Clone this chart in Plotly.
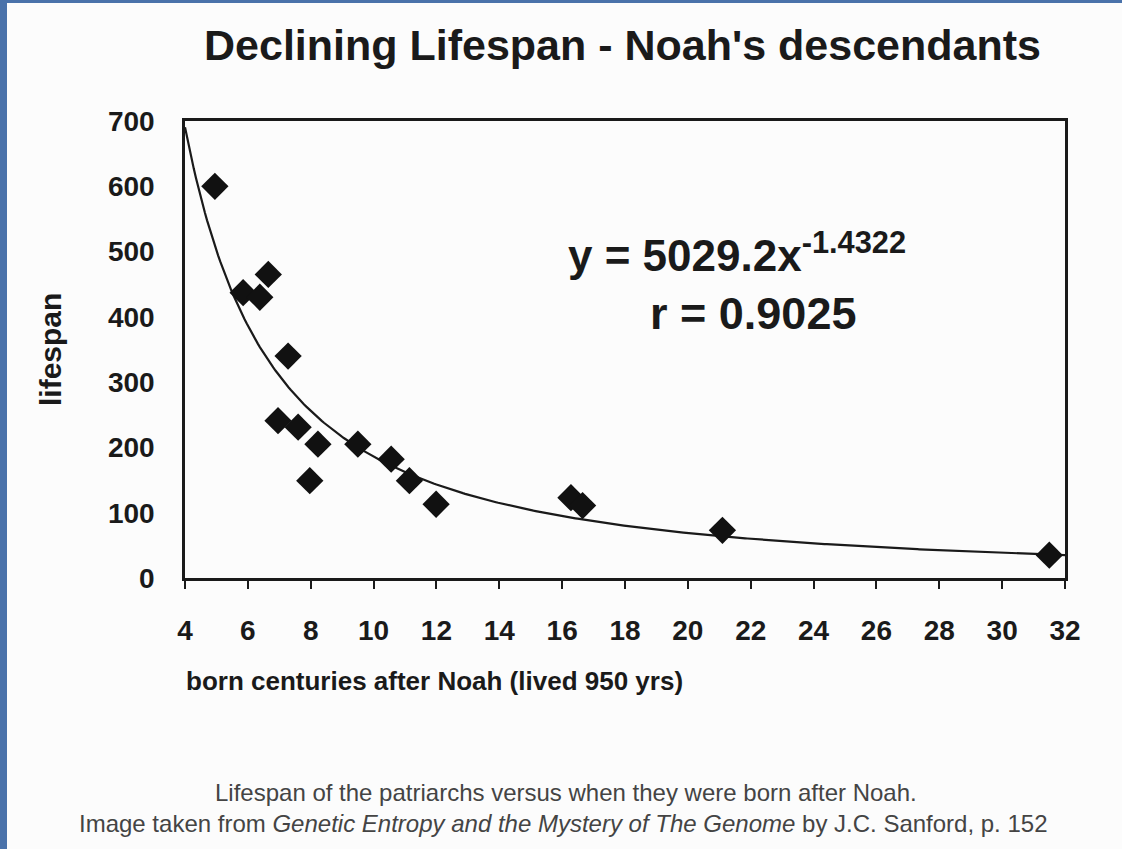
import numpy as np
import plotly.graph_objects as go

# Data
born_centuries = [4.95, 5.85, 6.38, 6.65, 7.28, 6.96, 7.60, 8.23, 7.97, 9.50,
                  10.56, 11.14, 11.99, 16.28, 16.65, 21.1, 31.5]
lifespan = [600, 437, 430, 465, 340, 241, 231, 205, 149, 205,
            182, 149, 113, 123, 111, 73, 35]

fit_coef = 5029.2
fit_exp = -1.4322
fit_r = 0.9025

x_ticks = list(range(4, 33, 2))
y_ticks = list(range(0, 701, 100))

W, H = 1122, 849
L, R, T, B = 185, 57, 121, 271
PW, PH = W - L - R, H - T - B

def px_x(p):
    return (p - L) / PW

def px_y(p):
    return (H - B - p) / PH

curve_x = np.linspace(4, 32, 400)
curve_y = fit_coef * curve_x ** fit_exp

FONT = "Liberation Sans, Arial, Helvetica, sans-serif"

fig = go.Figure()
fig.add_trace(go.Scatter(x=curve_x, y=curve_y, mode="lines",
                         line=dict(color="#1a1a1a", width=2.2),
                         hoverinfo="skip", showlegend=False))
fig.add_trace(go.Scatter(x=born_centuries, y=lifespan, mode="markers",
                         marker=dict(symbol="diamond", size=21, color="#111111",
                                     line=dict(width=0)),
                         showlegend=False))

fig.update_xaxes(range=[4, 32], tickvals=x_ticks, showgrid=False, zeroline=False,
                 showline=True, linecolor="#1a1a1a", linewidth=2.5, mirror=True,
                 ticks="outside", ticklen=8, tickwidth=2, tickcolor="#1a1a1a",
                 ticklabelstandoff=18,
                 tickfont=dict(family=FONT, size=28, color="#1a1a1a", weight="bold"))
fig.update_yaxes(range=[0, 700], tickvals=y_ticks, showgrid=False, zeroline=False,
                 showline=True, linecolor="#1a1a1a", linewidth=2.5, mirror=True,
                 ticks="", ticklabelstandoff=22,
                 tickfont=dict(family=FONT, size=28, color="#1a1a1a", weight="bold"))

annotations = [
    dict(text="<b>Declining Lifespan - Noah's descendants</b>", x=px_x(622), y=px_y(45),
         font=dict(family=FONT, size=43, color="#1a1a1a")),
    dict(text="<b>y = 5029.2x<sup>-1.4322</sup></b>", x=px_x(566), y=px_y(252),
         xanchor="left", font=dict(family=FONT, size=44, color="#1a1a1a")),
    dict(text="<b>r = 0.9025</b>", x=px_x(648), y=px_y(313),
         xanchor="left", font=dict(family=FONT, size=45, color="#1a1a1a")),
    dict(text="<b>lifespan</b>", x=px_x(50), y=px_y(350), textangle=-90,
         font=dict(family=FONT, size=30, color="#1a1a1a")),
    dict(text="<b>born centuries after Noah (lived 950 yrs)</b>", x=px_x(434), y=px_y(681),
         font=dict(family=FONT, size=26, color="#1a1a1a")),
    dict(text="Lifespan of the patriarchs versus when they were born after Noah.",
         x=px_x(566), y=px_y(792), font=dict(family=FONT, size=24, color="#444444")),
    dict(text="Image taken from <i>Genetic Entropy and the Mystery of The Genome</i> by J.C. Sanford, p. 152",
         x=px_x(563), y=px_y(823), font=dict(family=FONT, size=24, color="#444444")),
]
for a in annotations:
    a.setdefault("xanchor", "center")
    a.update(xref="paper", yref="paper", yanchor="middle", showarrow=False)
fig.update_layout(annotations=annotations)

fig.update_layout(
    shapes=[
        dict(type="rect", xref="paper", yref="paper", x0=px_x(0), x1=px_x(7),
             y0=px_y(H), y1=px_y(0), fillcolor="#4a72aa", line=dict(width=0), layer="below"),
        dict(type="rect", xref="paper", yref="paper", x0=px_x(0), x1=px_x(W),
             y0=px_y(3), y1=px_y(0), fillcolor="#4a72aa", line=dict(width=0), layer="below"),
    ],
    width=W, height=H,
    margin=dict(l=L, r=R, t=T, b=B, autoexpand=False),
    paper_bgcolor="#fcfcfc", plot_bgcolor="rgba(0,0,0,0)",
    font=dict(family=FONT),
)

fig.write_html("out.html", config={"displayModeBar": False},
               post_script="document.body.style.margin='0';document.body.style.padding='0';")
